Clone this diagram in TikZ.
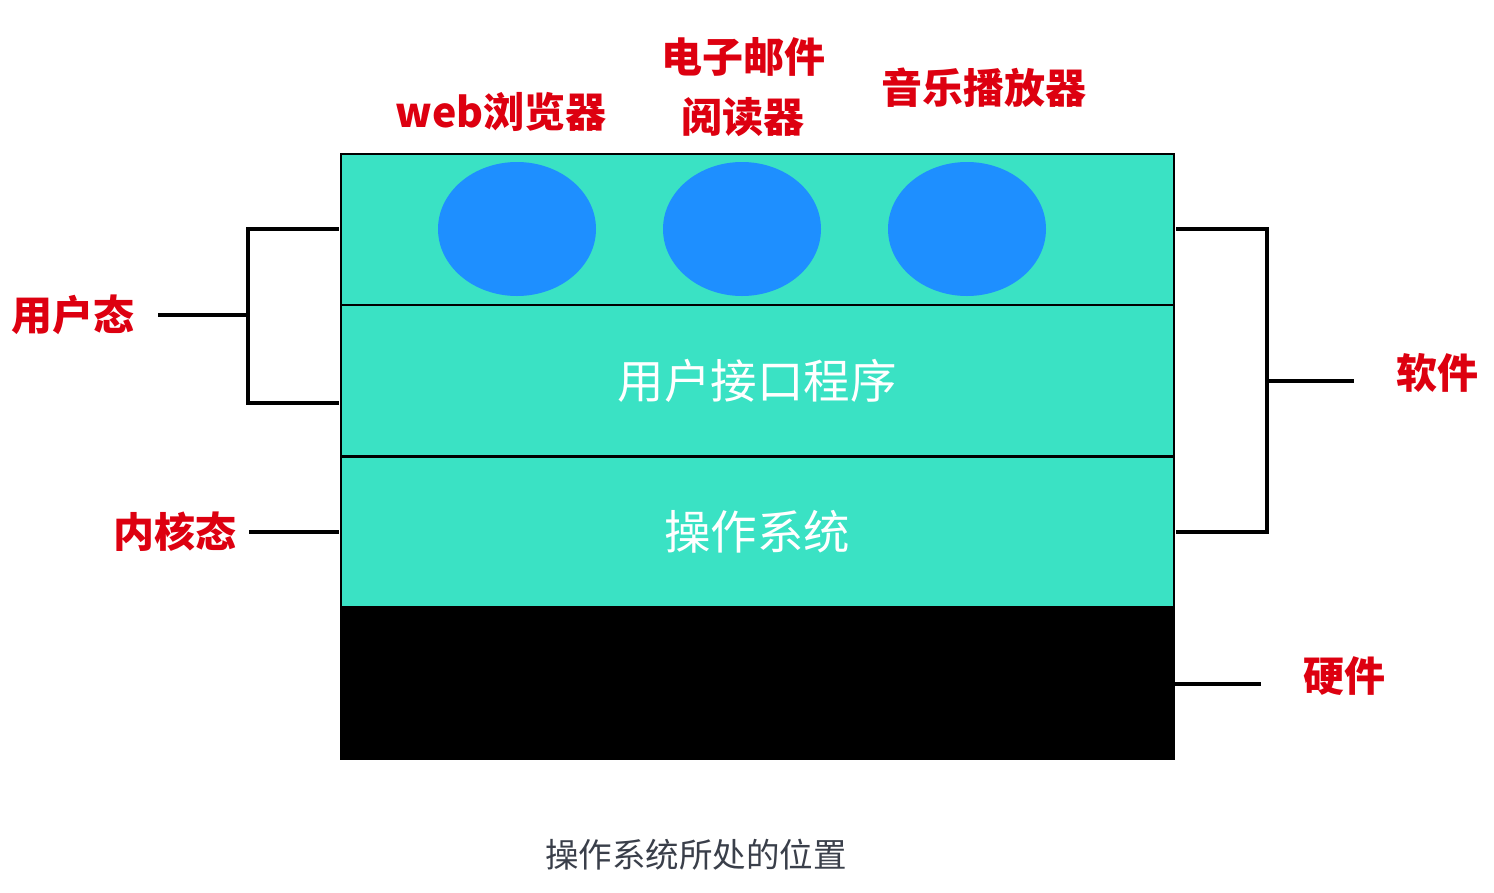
\documentclass[tikz,border=0pt]{standalone}
\usepackage{fontspec}
\newfontfamily\cjk{Noto Sans CJK SC}
\usetikzlibrary{shapes.geometric}
\definecolor{teal1}{HTML}{3AE2C4}
\definecolor{blue1}{HTML}{1E8FFF}
\definecolor{red1}{HTML}{DD0010}
\definecolor{gray1}{HTML}{3A3F4A}
\tikzset{
  layer/.style={draw=black, line width=2pt, fill=teal1, minimum width=833pt, minimum height=151pt, inner sep=0pt, outer sep=0pt, anchor=north west},
  app/.style={ellipse, fill=blue1, minimum width=158pt, minimum height=134pt, inner sep=0pt},
  redlbl/.style={text=red1, font=\cjk\bfseries\fontsize{41}{49}\selectfont, inner sep=0pt},
  whitelbl/.style={text=white, font=\cjk\fontsize{46.5}{56}\selectfont, inner sep=0pt},
  brk/.style={line width=3.5pt, line cap=rect}
}
\begin{document}
\begin{tikzpicture}[x=1pt,y=-1pt]
\useasboundingbox[fill=white] (0,0) rectangle (1494,892);
% layers
\node[layer] (apps) at (341,154) {};
\node[layer] (ui) at (341,305) {};
\node[layer] (os) at (341,457) {};
\node[layer, fill=black, draw=black, minimum height=152pt] (hw) at (341,607) {};
% apps
\node[app] (web) at (517,229) {};
\node[app] (mail) at (742,229) {};
\node[app] (music) at (967,229) {};
% inner labels
\node[whitelbl] (uitxt) at (757,381) {用户接口程序};
\node[whitelbl] (ostxt) at (757,532) {操作系统};
% top labels
\node[redlbl] (webl) at (501,112) {web浏览器};
\node[redlbl, align=center] (maill) at (743,87) {电子邮件\\[11pt]阅读器};
\node[redlbl] (musicl) at (984,88) {音乐播放器};
% side labels
\node[redlbl] (user) at (73,315) {用户态};
\node[redlbl] (kern) at (175,532) {内核态};
\node[redlbl] (soft) at (1437,373) {软件};
\node[redlbl] (hard) at (1344,676) {硬件};
% caption
\node[text=gray1, font=\cjk\fontsize{33.5}{40}\selectfont, inner sep=0pt] (cap) at (696,855) {操作系统所处的位置};
% left bracket
\coordinate (lt) at (337,229);
\coordinate (lb) at (337,403);
\coordinate (lm) at (248,315);
\draw[brk] (lt) -- (lt -| lm) -- (lb -| lm) -- (lb);
\draw[brk] (160,315) -- (lm);
\draw[brk] (251,532) -- (337,532);
% right bracket
\coordinate (rt) at (1178,229);
\coordinate (rb) at (1178,532);
\coordinate (rm) at (1267,381);
\draw[brk] (rt) -- (rt -| rm) -- (rb -| rm) -- (rb);
\draw[brk] (rm) -- (1352,381);
\draw[brk] (1174,684) -- (1259,684);
\end{tikzpicture}
\end{document}
